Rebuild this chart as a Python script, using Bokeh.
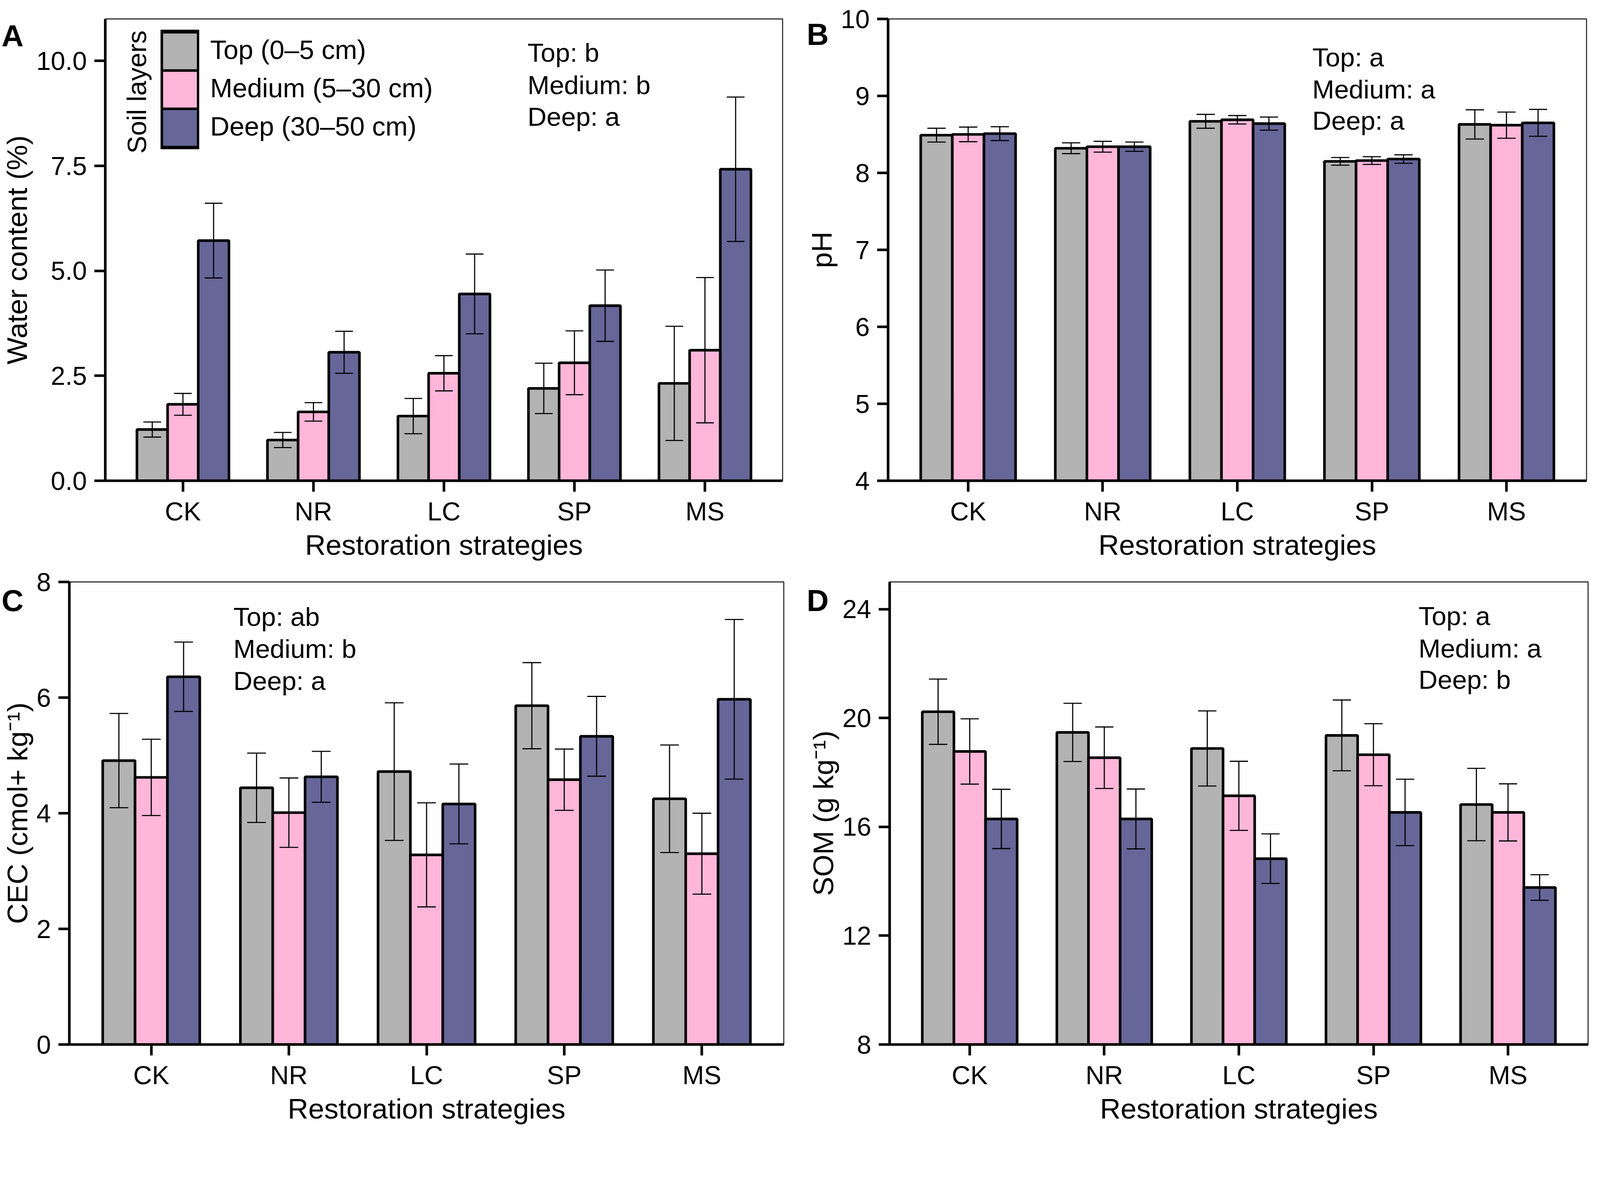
import math
from bokeh.plotting import figure
from bokeh.models import (ColumnDataSource, FactorRange, Range1d, FixedTicker,
                          Label, Legend, LegendItem, GridBox)
from bokeh.transform import dodge
from bokeh.layouts import column, row
from bokeh.embed import file_html
from bokeh.resources import INLINE

FONT = "Liberation Sans"
S = 4096 / 4312  # css px per reference px

# ---------------- data ----------------
strategies = ["CK", "NR", "LC", "SP", "MS"]
layer_names = ["Top (0–5 cm)", "Medium (5–30 cm)", "Deep (30–50 cm)"]
layer_colors = ["#B3B3B3", "#FFB6D9", "#666699"]

# A: water content (%)
water_top = [1.22, 0.97, 1.54, 2.20, 2.32]
water_top_err = [0.18, 0.18, 0.42, 0.60, 1.36]
water_med = [1.82, 1.64, 2.56, 2.81, 3.11]
water_med_err = [0.26, 0.22, 0.42, 0.76, 1.73]
water_deep = [5.72, 3.06, 4.45, 4.17, 7.42]
water_deep_err = [0.89, 0.50, 0.95, 0.85, 1.72]

# B: pH
ph_top = [8.49, 8.32, 8.67, 8.15, 8.63]
ph_top_err = [0.09, 0.07, 0.09, 0.05, 0.19]
ph_med = [8.50, 8.34, 8.69, 8.16, 8.62]
ph_med_err = [0.095, 0.07, 0.055, 0.05, 0.17]
ph_deep = [8.51, 8.34, 8.64, 8.18, 8.65]
ph_deep_err = [0.09, 0.06, 0.085, 0.055, 0.175]

# C: CEC (cmol+ kg-1)
cec_top = [4.91, 4.44, 4.72, 5.86, 4.25]
cec_top_err = [0.815, 0.60, 1.19, 0.745, 0.93]
cec_med = [4.62, 4.01, 3.28, 4.58, 3.30]
cec_med_err = [0.66, 0.60, 0.90, 0.53, 0.70]
cec_deep = [6.36, 4.63, 4.16, 5.33, 5.97]
cec_deep_err = [0.60, 0.44, 0.69, 0.69, 1.38]

# D: SOM (g kg-1)
som_top = [20.23, 19.47, 18.88, 19.36, 16.82]
som_top_err = [1.20, 1.07, 1.38, 1.30, 1.33]
som_med = [18.77, 18.54, 17.14, 18.65, 16.53]
som_med_err = [1.20, 1.13, 1.27, 1.14, 1.05]
som_deep = [16.29, 16.29, 14.83, 16.53, 13.77]
som_deep_err = [1.09, 1.10, 0.91, 1.22, 0.47]

# axis ticks
water_ticks = [0, 2.5, 5, 7.5, 10]
water_tick_labels = ["0.0", "2.5", "5.0", "7.5", "10.0"]
ph_ticks = [4, 5, 6, 7, 8, 9, 10]
ph_tick_labels = ["4", "5", "6", "7", "8", "9", "10"]
cec_ticks = [0, 2, 4, 6, 8]
cec_tick_labels = ["0", "2", "4", "6", "8"]
som_ticks = [8, 12, 16, 20, 24]
som_tick_labels = ["8", "12", "16", "20", "24"]

# significance letters
water_sig = ["Top: b", "Medium: b", "Deep: a"]
ph_sig = ["Top: a", "Medium: a", "Deep: a"]
cec_sig = ["Top: ab", "Medium: b", "Deep: a"]
som_sig = ["Top: a", "Medium: a", "Deep: b"]

panel_letters = ["A", "B", "C", "D"]

BAR_W = 0.235
OFFSETS = [-0.235, 0.0, 0.235]
CAP = 0.068
LW = 7 * S
TXT_SHIFT = 18  # screen px correction for label baselines


def fs(v):
    return f"{v * S:.1f}px"


def make_panel(ylabel, yr, ticks, tick_labels, vals, errs, sig, geom, sig_pos, legend=False):
    lb, fw, rb, tb, fh, bb = geom
    p = figure(x_range=FactorRange(factors=strategies, range_padding=0.095,
                                   range_padding_units="absolute"),
               y_range=Range1d(*yr),
               frame_width=fw, frame_height=fh,
               min_border_left=lb, min_border_right=rb,
               min_border_top=tb, min_border_bottom=bb,
               output_backend="svg", toolbar_location=None,
               background_fill_color="white", border_fill_color="white")
    p.title.text = ""
    p.xgrid.visible = False
    p.ygrid.visible = False
    p.outline_line_color = "#333333"
    p.outline_line_width = 3 * S

    data = dict(cat=strategies)
    for i in range(3):
        data[f"v{i}"] = vals[i]
        data[f"hi{i}"] = [v + e for v, e in zip(vals[i], errs[i])]
        data[f"lo{i}"] = [v - e for v, e in zip(vals[i], errs[i])]
    src = ColumnDataSource(data)

    for i in range(3):
        p.vbar(x=dodge("cat", OFFSETS[i], range=p.x_range), top=f"v{i}",
               bottom=yr[0], width=BAR_W, source=src,
               fill_color=layer_colors[i], line_color="black", line_width=LW)
    for i in range(3):
        o = OFFSETS[i]
        p.segment(x0=dodge("cat", o, range=p.x_range), x1=dodge("cat", o, range=p.x_range),
                  y0=f"lo{i}", y1=f"hi{i}", source=src, line_color="black", line_width=3 * S)
        p.segment(x0=dodge("cat", o - CAP, range=p.x_range), x1=dodge("cat", o + CAP, range=p.x_range),
                  y0=f"hi{i}", y1=f"hi{i}", source=src, line_color="black", line_width=3 * S)
        p.segment(x0=dodge("cat", o - CAP, range=p.x_range), x1=dodge("cat", o + CAP, range=p.x_range),
                  y0=f"lo{i}", y1=f"lo{i}", source=src, line_color="black", line_width=3 * S)

    for ax in (p.xaxis[0], p.yaxis[0]):
        ax.axis_line_width = LW
        ax.axis_line_color = "black"
        ax.major_tick_line_width = LW
        ax.major_tick_line_color = "black"
        ax.major_tick_out = 28
        ax.major_tick_in = 0
        ax.minor_tick_line_color = None
        ax.major_label_text_font = FONT
        ax.major_label_text_font_size = fs(70)
        ax.major_label_text_color = "black"
        ax.axis_label_text_font = FONT
        ax.axis_label_text_font_size = fs(77)
        ax.axis_label_text_font_style = "normal"
        ax.axis_label_text_color = "black"
    p.xaxis.major_label_standoff = 13
    p.xaxis.axis_label_standoff = 5
    p.yaxis.major_label_standoff = 19
    p.yaxis.axis_label_standoff = 6
    p.xaxis.axis_label = "Restoration strategies"
    p.yaxis.axis_label = ylabel
    p.yaxis.ticker = FixedTicker(ticks=ticks)
    p.yaxis.major_label_overrides = {t: s for t, s in zip(ticks, tick_labels)}

    for k, s in enumerate(sig):
        p.add_layout(Label(x=sig_pos[0], y=sig_pos[1][k] + TXT_SHIFT, x_units="screen", y_units="screen",
                           text=s, text_font=FONT, text_font_size=fs(71), text_color="black",
                           text_baseline="alphabetic", text_align="left"))

    if legend:
        gh = 98
        # zero-length segments (invisible in the plot) that give the legend its colour bands
        swatches = [p.segment(x0="cat", x1="cat", y0=f"v{i}", y1=f"v{i}", source=src,
                              line_color=layer_colors[i], line_width=gh - LW, line_cap="butt")
                    for i in range(3)]
        boxes = Legend(items=[LegendItem(label="", renderers=[swatches[i]]) for i in range(3)],
                       location=(142, 848), glyph_width=87, glyph_height=gh, spacing=0,
                       padding=0, margin=0, label_standoff=0, label_width=0, label_height=0,
                       label_text_font_size="1px",
                       border_line_color="black", border_line_width=LW,
                       background_fill_color="black", background_fill_alpha=1.0)
        texts = Legend(items=[LegendItem(label=layer_names[i], renderers=[swatches[i]]) for i in range(3)],
                       location=(269, 858), glyph_width=0, glyph_height=gh, spacing=0,
                       padding=0, margin=0, label_standoff=0, label_height=0,
                       label_text_font=FONT, label_text_font_size=fs(72),
                       label_text_color="black", label_text_baseline="middle",
                       border_line_color=None, background_fill_alpha=0)
        p.add_layout(boxes)
        p.add_layout(texts)
        p.add_layout(Label(x=80, y=995, x_units="screen", y_units="screen",
                           text="Soil layers", angle=math.pi / 2, text_font=FONT,
                           text_font_size=fs(72), text_color="black",
                           text_align="center", text_baseline="middle"))
    return p


pA = make_panel("Water content (%)", (0, 11), water_ticks, water_tick_labels,
                [water_top, water_med, water_deep], [water_top_err, water_med_err, water_deep_err],
                water_sig, (268, 1734, 28, 48, 1182, 217), (1081, [1078, 995, 914]), legend=True)
pB = make_panel("pH", (4, 10), ph_ticks, ph_tick_labels,
                [ph_top, ph_med, ph_deep], [ph_top_err, ph_med_err, ph_deep_err],
                ph_sig, (242, 1788, 20, 48, 1182, 217), (1086, [1066, 984, 904]))
pC = make_panel("CEC (cmol+ kg⁻¹)", (0, 8), cec_ticks, cec_tick_labels,
                [cec_top, cec_med, cec_deep], [cec_top_err, cec_med_err, cec_deep_err],
                cec_sig, (172, 1829, 29, 42, 1184, 209), (420, [1077, 995, 913]))
pD = make_panel("SOM (g kg⁻¹)", (8, 25), som_ticks, som_tick_labels,
                [som_top, som_med, som_deep], [som_top_err, som_med_err, som_deep_err],
                som_sig, (242, 1788, 20, 42, 1184, 209), (1354, [1079, 996, 916]))

panels = column(row(pA, pB), row(pC, pD))

# transparent overlay carrying the panel letters
W, H = 4080, 2882
ov = figure(width=W, height=H, x_range=Range1d(0, W), y_range=Range1d(0, H),
            x_axis_type=None, y_axis_type=None, min_border=0,
            output_backend="svg", toolbar_location=None)
ov.title.text = ""
ov.outline_line_color = None
ov.background_fill_alpha = 0
ov.border_fill_alpha = 0
letter_xy = [(12, 124), (2182, 120), (12, 1645), (2182, 1645)]  # reference px (left, baseline)
for t, (lx, ly) in zip(panel_letters, letter_xy):
    ov.add_layout(Label(x=lx * S - 8, y=H - (ly * S - 8) + TXT_SHIFT, text=t, text_font=FONT,
                        text_font_size=fs(82), text_font_style="bold", text_color="black",
                        text_align="left", text_baseline="alphabetic"))

layout = GridBox(children=[(panels, 0, 0), (ov, 0, 0)])
open("out.html", "w").write(file_html(layout, INLINE))
